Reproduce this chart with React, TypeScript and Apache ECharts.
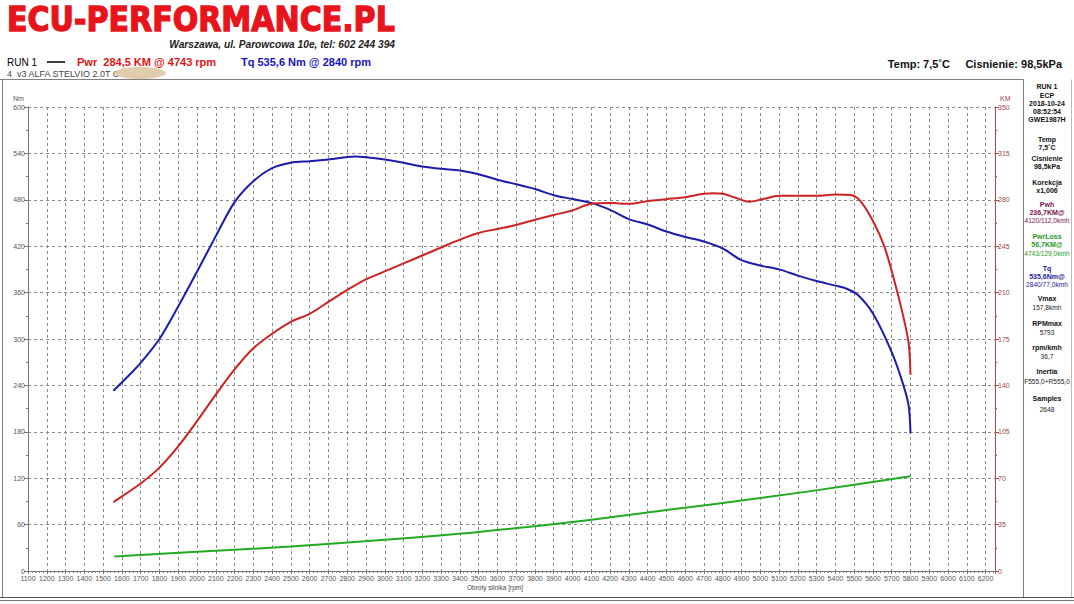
import React, { useEffect, useRef } from "react";
import * as echarts from "echarts";

// ---- data ----
const torqueRpm = [1555, 1650, 1700, 1800, 1900, 2000, 2100, 2200, 2300, 2400, 2500, 2600, 2700, 2840, 2900, 3000, 3100, 3200, 3300, 3400, 3500, 3600, 3700, 3800, 3900, 4000, 4100, 4200, 4300, 4400, 4500, 4600, 4700, 4800, 4900, 5000, 5100, 5200, 5300, 5400, 5460, 5520, 5600, 5700, 5760, 5790, 5800];
const torqueNm = [233, 256, 269, 300, 342, 387, 433, 477, 504, 521, 528, 530, 532, 536, 535, 532, 528, 523, 520, 518, 513, 506, 500, 494, 486, 481, 476, 467, 455, 448, 439, 432, 426, 417, 402, 395, 390, 382, 375, 369, 365, 357, 333, 283, 242, 214, 178];

const powerRpm = [1555, 1700, 1800, 1900, 2000, 2100, 2200, 2300, 2400, 2500, 2600, 2700, 2800, 2900, 3000, 3100, 3200, 3300, 3400, 3500, 3600, 3700, 3800, 3900, 4000, 4100, 4200, 4300, 4400, 4500, 4600, 4700, 4750, 4800, 4860, 4940, 5010, 5100, 5200, 5300, 5400, 5480, 5530, 5600, 5660, 5710, 5760, 5790, 5800];
const powerKM = [52, 66, 78, 94, 113, 133, 152, 168, 179, 188, 194, 203, 212, 220, 226, 232, 238, 244, 250, 255, 258, 261, 265, 268.5, 272, 277, 277.5, 277, 279, 280.5, 282, 284.5, 285, 284.5, 282, 278.6, 280.4, 283, 283, 283, 284, 283.6, 279.5, 264, 245, 221, 193, 172, 148];

const lossRpm = [1560, 2000, 2500, 3000, 3500, 4000, 4500, 5000, 5500, 5800];
const lossKM = [11, 14.5, 18.5, 23.5, 29.5, 37, 46, 55, 65, 71.5];

const panelTexts = [
  "RUN 1", "ECP", "2018-10-24", "08:52:54", "GWE1987H",
  "Temp", "7,5˚C", "Cisnienie", "98,5kPa", "Korekcja", "x1,006",
  "Pwh", "236,7KM@", "4120/112,0kmh",
  "PwrLoss", "56,7KM@", "4743/129,0kmh",
  "Tq", "535,6Nm@", "2840/77,0kmh",
  "Vmax", "157,8kmh", "RPMmax", "5793", "rpm/kmh", "36,7",
  "Inertia", "F555,0+R555,0", "Samples", "2648",
];

const FONT = "Liberation Sans";

function measure(text: string, font: string): number {
  const c = document.createElement("canvas").getContext("2d");
  if (!c) return 0;
  c.font = font;
  return c.measureText(text).width;
}

export default function App() {
  const ref = useRef<HTMLDivElement>(null);

  useEffect(() => {
    document.body.style.margin = "0";
    const chart = echarts.init(ref.current!, null, { renderer: "svg" });

    const pair = (xs: number[], ys: number[]) => xs.map((x, i) => [x, ys[i]]);

    const logoFont = `bold 34px "DejaVu Sans"`;
    const logoW = measure("ECU-PERFORMANCE.PL", logoFont) || 440;
    const logoScale = 388 / logoW;

    // right panel layout
    const panelY = [86, 95, 103, 111, 119, 139, 147, 158, 166, 182, 190, 204, 212, 220, 236, 244, 253, 268, 276, 284, 298, 307, 323, 332, 347, 356, 371, 381, 398, 409];
    const panelStyle = [
      "b", "b", "b", "b", "b",
      "b", "b", "b", "b", "b", "b",
      "pb", "pb", "p",
      "gb", "gb", "g",
      "tb", "tb", "t",
      "b", "n", "b", "n", "b", "n",
      "b", "n", "b", "n",
    ];
    const styleColor: Record<string, string> = { b: "#111", n: "#222", pb: "#7a0f52", p: "#7a0f52", gb: "#1f9a1f", g: "#1f9a1f", tb: "#1a1aa0", t: "#1a1aa0" };

    const panel = panelTexts.map((t, i) => {
      const bold = panelStyle[i].endsWith("b");
      return {
        type: "text",
        x: 1047,
        y: panelY[i],
        style: {
          text: t,
          x: 0,
          y: 0,
          textAlign: "center",
          textVerticalAlign: "middle",
          font: `${bold ? "bold 7px" : "6.6px"} "${FONT}"`,
          fill: styleColor[panelStyle[i]],
        },
      };
    });

    const gray = "#808080";
    const graphic: any[] = [
      {
        type: "text",
        x: 7,
        y: 19.5,
        scaleX: logoScale,
        style: { text: "ECU-PERFORMANCE.PL", x: 0, y: 0, textVerticalAlign: "middle", font: logoFont, fill: "#e8141c", stroke: "#e8141c", lineWidth: 1.4 },
      },
      {
        type: "text",
        x: 395,
        y: 44,
        style: { text: "Warszawa, ul. Parowcowa 10e, tel: 602 244 394", x: 0, y: 0, textAlign: "right", textVerticalAlign: "middle", font: `italic bold 10.2px "${FONT}"`, fill: "#222" },
      },
      { type: "text", x: 7, y: 62, style: { text: "RUN 1", x: 0, y: 0, textVerticalAlign: "middle", font: `10px "${FONT}"`, fill: "#000" } },
      { type: "line", shape: { x1: 47, y1: 62, x2: 65, y2: 62 }, style: { stroke: "#000", lineWidth: 1.5 } },
      { type: "text", x: 77, y: 62, style: { text: "Pwr  284,5 KM @ 4743 rpm", x: 0, y: 0, textVerticalAlign: "middle", font: `bold 11px "${FONT}"`, fill: "#e01414" } },
      { type: "text", x: 241, y: 62, style: { text: "Tq 535,6 Nm @ 2840 rpm", x: 0, y: 0, textVerticalAlign: "middle", font: `bold 11px "${FONT}"`, fill: "#1414c0" } },
      { type: "text", x: 7, y: 73.5, style: { text: "4  v3 ALFA STELVIO 2.0T C", x: 0, y: 0, textVerticalAlign: "middle", font: `9px "${FONT}"`, fill: "#444" } },
      { type: "ellipse", shape: { cx: 140, cy: 73, rx: 26, ry: 6 }, style: { fill: "#dcc8a4", opacity: 0.9 } },
      { type: "text", x: 950, y: 64, style: { text: "Temp: 7,5˚C", x: 0, y: 0, textAlign: "right", textVerticalAlign: "middle", font: `bold 11px "${FONT}"`, fill: "#111" } },
      { type: "text", x: 1062, y: 64, style: { text: "Cisnienie: 98,5kPa", x: 0, y: 0, textAlign: "right", textVerticalAlign: "middle", font: `bold 11px "${FONT}"`, fill: "#111" } },
      // frame
      { type: "line", shape: { x1: 0, y1: 79.5, x2: 1023.5, y2: 79.5 }, style: { stroke: gray, lineWidth: 1 } },
      { type: "line", shape: { x1: 2.5, y1: 79.5, x2: 2.5, y2: 597 }, style: { stroke: gray, lineWidth: 1 } },
      { type: "line", shape: { x1: 1023.5, y1: 79.5, x2: 1023.5, y2: 597 }, style: { stroke: gray, lineWidth: 1 } },
      { type: "line", shape: { x1: 1071.5, y1: 79.5, x2: 1071.5, y2: 597 }, style: { stroke: "#bbb", lineWidth: 1 } },
      { type: "line", shape: { x1: 0, y1: 597.5, x2: 1074, y2: 597.5 }, style: { stroke: "#555", lineWidth: 1 } },
      { type: "line", shape: { x1: 0, y1: 600.5, x2: 1074, y2: 600.5 }, style: { stroke: "#777", lineWidth: 1 } },
      // axis captions
      { type: "text", x: 13, y: 98, style: { text: "Nm", x: 0, y: 0, textVerticalAlign: "middle", font: `7px "${FONT}"`, fill: "#555" } },
      { type: "text", x: 1000, y: 98, style: { text: "KM", x: 0, y: 0, textVerticalAlign: "middle", font: `7px "${FONT}"`, fill: "#a04848" } },
      { type: "text", x: 495, y: 587, style: { text: "Obroty silnika [rpm]", x: 0, y: 0, textAlign: "center", textVerticalAlign: "middle", font: `6.5px "${FONT}"`, fill: "#444" } },
      ...panel,
    ];

    const dash = { color: "#8a8a8a", type: [3, 3] as any, width: 1 };
    const plain = (v: number) => String(v);

    chart.setOption({
      animation: false,
      backgroundColor: "#ffffff",
      grid: { left: 28, top: 107, width: 967, height: 464, containLabel: false },
      xAxis: {
        type: "value",
        min: 1100,
        max: 6250,
        interval: 100,
        axisLine: { show: true, onZero: false, lineStyle: { color: "#777", width: 1 } },
        axisTick: { show: true, length: 3, lineStyle: { color: "#777" } },
        minorTick: { show: true, splitNumber: 5, length: 2, lineStyle: { color: "#777" } },
        axisLabel: { fontSize: 7, color: "#555", margin: 4, showMaxLabel: false, fontFamily: FONT, formatter: plain },
        splitLine: { show: true, lineStyle: dash },
      },
      yAxis: [
        {
          type: "value",
          min: 0,
          max: 600,
          interval: 60,
          position: "left",
          axisLine: { show: true, lineStyle: { color: "#777" } },
          axisTick: { show: true, length: 4, lineStyle: { color: "#777" } },
          minorTick: { show: true, splitNumber: 2, length: 2, lineStyle: { color: "#777" } },
          axisLabel: { fontSize: 7, color: "#555", margin: 3, fontFamily: FONT, formatter: plain },
          splitLine: { show: true, lineStyle: dash },
        },
        {
          type: "value",
          min: 0,
          max: 350,
          interval: 35,
          position: "right",
          axisLine: { show: true, lineStyle: { color: "#b04a4a" } },
          axisTick: { show: true, length: 4, lineStyle: { color: "#b04a4a" } },
          minorTick: { show: true, splitNumber: 2, length: 2, lineStyle: { color: "#b04a4a" } },
          axisLabel: { fontSize: 7, color: "#a04848", margin: 3, fontFamily: FONT, formatter: plain },
          splitLine: { show: false },
        },
      ],
      series: [
        {
          name: "Tq",
          type: "line",
          yAxisIndex: 0,
          data: pair(torqueRpm, torqueNm),
          symbol: "none",
          smooth: 0.3,
          lineStyle: { color: "#1c1caa", width: 2 },
        },
        {
          name: "Pwr",
          type: "line",
          yAxisIndex: 1,
          data: pair(powerRpm, powerKM),
          symbol: "none",
          smooth: 0.3,
          lineStyle: { color: "#cc2222", width: 2 },
        },
        {
          name: "PwrLoss",
          type: "line",
          yAxisIndex: 1,
          data: pair(lossRpm, lossKM),
          symbol: "none",
          smooth: 0.4,
          lineStyle: { color: "#22aa22", width: 2 },
        },
      ],
      graphic,
    });

    return () => chart.dispose();
  }, []);

  return <div ref={ref} style={{ position: "fixed", left: 0, top: 0, width: 1074, height: 604 }} />;
}
